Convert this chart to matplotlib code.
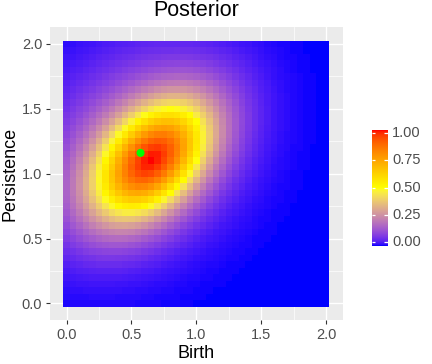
import numpy as np
import matplotlib
matplotlib.use("Agg")
import matplotlib.pyplot as plt
from matplotlib.colors import ListedColormap

# ---- data ----
birth_grid = np.round(np.arange(0, 2.0001, 0.05), 2)        # cell centres, x
persistence_grid = np.round(np.arange(0, 2.0001, 0.05), 2)  # cell centres, y
# posterior surface parameters: core bump + broad halo, max normalised to 1
core_center = [0.66, 1.10]
core_scale = 0.31
core_corr = 0.44
core_weight = 0.8
halo_center = [0.55, 1.20]
halo_scale = 0.45
halo_corr = 0.2
halo_weight = 0.2
# green marker
point_birth = [0.57]
point_persistence = [1.16]
tick_vals = [0.0, 0.5, 1.0, 1.5, 2.0]
tick_labels = ["0.0", "0.5", "1.0", "1.5", "2.0"]
cbar_ticks = [0.0, 0.25, 0.5, 0.75, 1.0]
cbar_labels = ["0.00", "0.25", "0.50", "0.75", "1.00"]
palette = ["#0000FF", "#FFFF00", "#FF0000"]

# ---- posterior surface ----
X, Y = np.meshgrid(birth_grid, persistence_grid)


def bump(c, s, r):
    z1 = (X - c[0]) / s
    z2 = (Y - c[1]) / s
    return np.exp(-0.5 * (z1**2 - 2 * r * z1 * z2 + z2**2) / (1 - r**2))


Z = (core_weight * bump(core_center, core_scale, core_corr)
     + halo_weight * bump(halo_center, halo_scale, halo_corr))
Z = Z / Z.max()


# ---- Lab colour ramp like ggplot ----
def srgb_to_lab(rgb):
    rgb = np.asarray(rgb, float)
    lin = np.where(rgb <= 0.04045, rgb / 12.92, ((rgb + 0.055) / 1.055) ** 2.4)
    M = np.array([[0.4124564, 0.3575761, 0.1804375],
                  [0.2126729, 0.7151522, 0.0721750],
                  [0.0193339, 0.1191920, 0.9503041]])
    xyz = M @ lin
    wp = np.array([0.95047, 1.0, 1.08883])
    t = xyz / wp
    d = 6 / 29
    f = np.where(t > d**3, np.cbrt(t), t / (3 * d**2) + 4 / 29)
    return np.array([116 * f[1] - 16, 500 * (f[0] - f[1]), 200 * (f[1] - f[2])])


def lab_to_srgb(lab):
    L, a, b = lab
    fy_ = (L + 16) / 116
    fx_ = fy_ + a / 500
    fz_ = fy_ - b / 200
    d = 6 / 29

    def finv(f):
        return np.where(f > d, f**3, 3 * d**2 * (f - 4 / 29))
    wp = np.array([0.95047, 1.0, 1.08883])
    xyz = np.array([finv(fx_), finv(fy_), finv(fz_)]) * wp
    Minv = np.array([[3.2404542, -1.5371385, -0.4985314],
                     [-0.9692660, 1.8760108, 0.0415560],
                     [0.0556434, -0.2040259, 1.0572252]])
    lin = np.clip(Minv @ xyz, 0, 1)
    rgb = np.where(lin <= 0.0031308, 12.92 * lin, 1.055 * lin ** (1 / 2.4) - 0.055)
    return np.clip(rgb, 0, 1)


def hex2rgb(h):
    h = h.lstrip("#")
    return np.array([int(h[i:i + 2], 16) / 255 for i in (0, 2, 4)])


labs = [srgb_to_lab(hex2rgb(c)) for c in palette]
n = 512
cols = []
for v in np.linspace(0, 1, n):
    seg = min(int(v * (len(labs) - 1)), len(labs) - 2)
    t = v * (len(labs) - 1) - seg
    lab = labs[seg] * (1 - t) + labs[seg + 1] * t
    cols.append(lab_to_srgb(lab))
cmap = ListedColormap(np.array(cols))

# ---- figure ----
W, H = 432, 364
fig = plt.figure(figsize=(W / 100, H / 100), dpi=100)
plt.rcParams['font.family'] = ['Liberation Sans', 'DejaVu Sans']


def fx(px):
    return px / W


def fy(py):
    return 1 - py / H


pl, pr, pt, pb = 50, 342.7, 27.3, 320
ax = fig.add_axes([fx(pl), fy(pb), fx(pr) - fx(pl), fy(pt) - fy(pb)])
ax.set_facecolor("#EBEBEB")
for s in ax.spines.values():
    s.set_visible(False)

lim = (-0.1275, 2.1275)
ax.set_xlim(lim)
ax.set_ylim(lim)
ax.set_xticks(tick_vals)
ax.set_xticklabels(tick_labels)
ax.set_yticks(tick_vals)
ax.set_yticklabels(tick_labels)
minor = [0.25, 0.75, 1.25, 1.75]
ax.set_xticks(minor, minor=True)
ax.set_yticks(minor, minor=True)
ax.grid(which="major", color="white", linewidth=1.0)
ax.grid(which="minor", color="white", linewidth=0.5)
ax.set_axisbelow(True)
ax.tick_params(which="major", length=3, width=0.8, color="#333333",
               labelcolor="#4D4D4D", labelsize=10.5, pad=2.5)
ax.tick_params(which="minor", length=0)

step = 0.05
xe = np.concatenate([birth_grid - step / 2, [birth_grid[-1] + step / 2]])
ye = np.concatenate([persistence_grid - step / 2, [persistence_grid[-1] + step / 2]])
ax.pcolormesh(xe, ye, Z, cmap=cmap, vmin=0, vmax=1, shading="flat",
              antialiased=False, zorder=2, linewidth=0)
ax.scatter(point_birth, point_persistence, s=34, color="#00FF00",
           edgecolors="none", zorder=3)

fig.text(fx((pl + pr) / 2), fy(11), "Posterior", ha="center", va="center",
         fontsize=15.5, color="black")
fig.text(fx((pl + pr) / 2), fy(354), "Birth", ha="center", va="center",
         fontsize=13, color="black")
fig.text(fx(10), fy((pt + pb) / 2), "Persistence", ha="center", va="center",
         rotation=90, fontsize=13, color="black")

# ---- colour bar ----
cl, cr, ct, cb = 372, 387.5, 130, 245.5
cax = fig.add_axes([fx(cl), fy(cb), fx(cr) - fx(cl), fy(ct) - fy(cb)])
grad = np.linspace(0, 1, 300).reshape(-1, 1)
pad = 0.028
cax.set_xlim(0, 1)
cax.set_ylim(-pad, 1 + pad)
cax.imshow(grad, cmap=cmap, vmin=0, vmax=1, aspect="auto", origin="lower",
           extent=[0, 1, -pad, 1 + pad], interpolation="bilinear")
for s in cax.spines.values():
    s.set_visible(False)
cax.set_xticks([])
cax.set_yticks([])
for v in cbar_ticks:
    cax.plot([0, 0.2], [v, v], color="white", lw=0.9, solid_capstyle="butt")
    cax.plot([0.8, 1], [v, v], color="white", lw=0.9, solid_capstyle="butt")
for v, lab in zip(cbar_ticks, cbar_labels):
    y_px = cb - (v + pad) / (1 + 2 * pad) * (cb - ct)
    fig.text(fx(392), fy(y_px), lab, ha="left", va="center",
             fontsize=10.5, color="#4D4D4D")

fig.savefig("out.png", dpi=100)
